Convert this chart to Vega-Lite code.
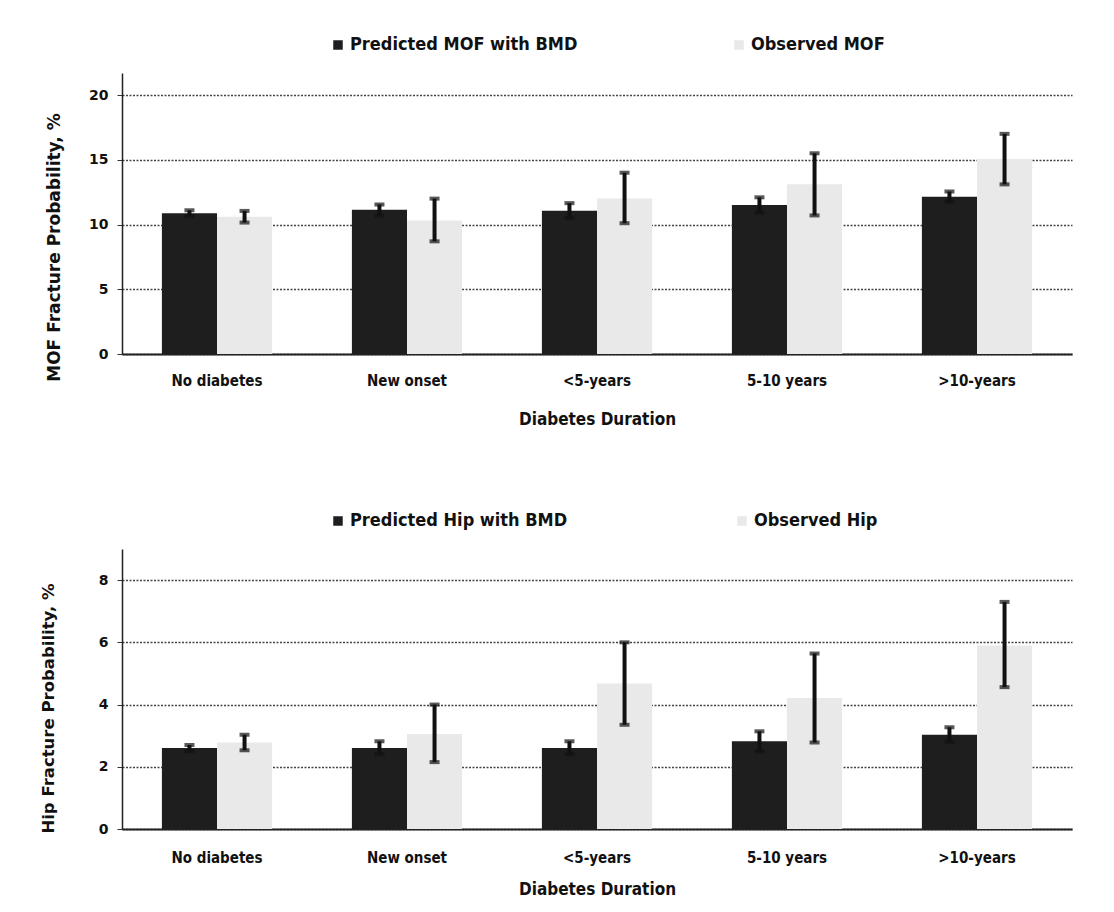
{
  "$schema": "https://vega.github.io/schema/vega-lite/v6.json",
  "background": "white",
  "padding": {"left": 40, "top": 36, "right": 5, "bottom": 5},
  "config": {
    "view": {"stroke": null},
    "axis": {"labelFont": "DejaVu Sans", "labelFontWeight": "bold", "labelColor": "#111", "titleColor": "#111"},
    "legend": {"labelFont": "DejaVu Sans Condensed", "labelFontWeight": "bold", "labelFontSize": 18, "labelColor": "#111", "labelLimit": 500}
  },
  "datasets": {
    "mof": [
      {"duration": "No diabetes", "series": "Predicted MOF with BMD", "value": 10.87, "lo": 10.65, "hi": 11.1},
      {"duration": "No diabetes", "series": "Observed MOF", "value": 10.6, "lo": 10.15, "hi": 11.05},
      {"duration": "New onset", "series": "Predicted MOF with BMD", "value": 11.13, "lo": 10.7, "hi": 11.55},
      {"duration": "New onset", "series": "Observed MOF", "value": 10.3, "lo": 8.7, "hi": 12.0},
      {"duration": "<5-years", "series": "Predicted MOF with BMD", "value": 11.07, "lo": 10.5, "hi": 11.65},
      {"duration": "<5-years", "series": "Observed MOF", "value": 12.0, "lo": 10.1, "hi": 14.0},
      {"duration": "5-10 years", "series": "Predicted MOF with BMD", "value": 11.5, "lo": 10.9, "hi": 12.1},
      {"duration": "5-10 years", "series": "Observed MOF", "value": 13.1, "lo": 10.7, "hi": 15.5},
      {"duration": ">10-years", "series": "Predicted MOF with BMD", "value": 12.15, "lo": 11.75, "hi": 12.55},
      {"duration": ">10-years", "series": "Observed MOF", "value": 15.05, "lo": 13.1, "hi": 17.0}
    ],
    "hip": [
      {"duration": "No diabetes", "series": "Predicted Hip with BMD", "value": 2.6, "lo": 2.5, "hi": 2.7},
      {"duration": "No diabetes", "series": "Observed Hip", "value": 2.78, "lo": 2.53, "hi": 3.03},
      {"duration": "New onset", "series": "Predicted Hip with BMD", "value": 2.6, "lo": 2.4, "hi": 2.82},
      {"duration": "New onset", "series": "Observed Hip", "value": 3.05, "lo": 2.15, "hi": 4.0},
      {"duration": "<5-years", "series": "Predicted Hip with BMD", "value": 2.6, "lo": 2.4, "hi": 2.82},
      {"duration": "<5-years", "series": "Observed Hip", "value": 4.68, "lo": 3.35, "hi": 6.0},
      {"duration": "5-10 years", "series": "Predicted Hip with BMD", "value": 2.82, "lo": 2.5, "hi": 3.14},
      {"duration": "5-10 years", "series": "Observed Hip", "value": 4.21, "lo": 2.78, "hi": 5.64},
      {"duration": ">10-years", "series": "Predicted Hip with BMD", "value": 3.03, "lo": 2.8, "hi": 3.27},
      {"duration": ">10-years", "series": "Observed Hip", "value": 5.9, "lo": 4.56, "hi": 7.3}
    ]
  },
  "bounds": "flush",
  "spacing": 195,
  "resolve": {"scale": {"color": "independent", "y": "independent", "x": "independent", "xOffset": "independent"}, "legend": {"color": "independent"}},
  "vconcat": [
    {
      "width": 950,
      "height": 281,
      "data": {"name": "mof"},
      "encoding": {
        "x": {
          "field": "duration", "type": "nominal",
          "sort": ["No diabetes", "New onset", "<5-years", "5-10 years", ">10-years"],
          "scale": {"paddingInner": 0.42, "paddingOuter": 0.21},
          "axis": {
            "title": "Diabetes Duration", "labelAngle": 0, "ticks": false,
            "labelFont": "DejaVu Sans Condensed", "labelFontSize": 15, "labelPadding": 19,
            "titleFont": "DejaVu Sans Condensed", "titleFontSize": 17, "titleFontWeight": "bold",
            "titleBaseline": "middle", "titleY": 65,
            "domainColor": "#222", "domainWidth": 2
          }
        },
        "xOffset": {"field": "series", "type": "nominal", "sort": ["Predicted MOF with BMD", "Observed MOF"], "scale": {"paddingInner": 0, "paddingOuter": 0}}
      },
      "layer": [
        {
          "mark": {"type": "bar"},
          "encoding": {
            "y": {
              "field": "value", "type": "quantitative",
              "scale": {"domain": [0, 21.7], "nice": false},
              "axis": {
                "title": "MOF Fracture Probability, %", "values": [0, 5, 10, 15, 20],
                "labelFontSize": 14, "labelPadding": 9, "tickSize": 5, "tickColor": "#333",
                "titleFont": "DejaVu Sans", "titleFontSize": 17, "titleFontWeight": "bold",
                "titleX": -68, "titleY": 174, "titleAngle": -90, "titleBaseline": "middle",
                "domainColor": "#222", "domainWidth": 1.5,
                "grid": true, "gridColor": "#444", "gridDash": [2, 1.5], "gridWidth": 1.5
              }
            },
            "color": {
              "field": "series", "type": "nominal",
              "sort": ["Predicted MOF with BMD", "Observed MOF"],
              "scale": {"domain": ["Predicted MOF with BMD", "Observed MOF"], "range": ["#1e1e1e", "#e9e9e9"]},
              "legend": {
                "title": null, "orient": "none", "direction": "horizontal",
                "legendX": 207, "legendY": -37, "symbolType": "square", "symbolSize": 90,
                "labelOffset": 3, "columnPadding": 152, "symbolStrokeWidth": 0
              }
            }
          }
        },
        {
          "mark": {"type": "rule", "color": "#111", "strokeWidth": 4},
          "encoding": {
            "y": {"field": "lo", "type": "quantitative", "title": "MOF Fracture Probability, %"},
            "y2": {"field": "hi"}
          }
        },
        {
          "mark": {"type": "tick", "color": "#111", "thickness": 4, "size": 10},
          "encoding": {"y": {"field": "lo", "type": "quantitative", "title": "MOF Fracture Probability, %"}}
        },
        {
          "mark": {"type": "tick", "color": "#111", "thickness": 4, "size": 10},
          "encoding": {"y": {"field": "hi", "type": "quantitative", "title": "MOF Fracture Probability, %"}}
        }
      ]
    },
    {
      "width": 950,
      "height": 280,
      "data": {"name": "hip"},
      "encoding": {
        "x": {
          "field": "duration", "type": "nominal",
          "sort": ["No diabetes", "New onset", "<5-years", "5-10 years", ">10-years"],
          "scale": {"paddingInner": 0.42, "paddingOuter": 0.21},
          "axis": {
            "title": "Diabetes Duration", "labelAngle": 0, "ticks": false,
            "labelFont": "DejaVu Sans Condensed", "labelFontSize": 15, "labelPadding": 21,
            "titleFont": "DejaVu Sans Condensed", "titleFontSize": 17, "titleFontWeight": "bold",
            "titleBaseline": "middle", "titleY": 60,
            "domainColor": "#222", "domainWidth": 2
          }
        },
        "xOffset": {"field": "series", "type": "nominal", "sort": ["Predicted Hip with BMD", "Observed Hip"], "scale": {"paddingInner": 0, "paddingOuter": 0}}
      },
      "layer": [
        {
          "mark": {"type": "bar"},
          "encoding": {
            "y": {
              "field": "value", "type": "quantitative",
              "scale": {"domain": [0, 9], "nice": false},
              "axis": {
                "title": "Hip Fracture Probability, %", "values": [0, 2, 4, 6, 8],
                "labelFontSize": 14, "labelPadding": 9, "tickSize": 5, "tickColor": "#333",
                "titleFont": "DejaVu Sans", "titleFontSize": 16.5, "titleFontWeight": "bold",
                "titleX": -74, "titleY": 159, "titleAngle": -90, "titleBaseline": "middle",
                "domainColor": "#222", "domainWidth": 1.5,
                "grid": true, "gridColor": "#444", "gridDash": [2, 1.5], "gridWidth": 1.5
              }
            },
            "color": {
              "field": "series", "type": "nominal",
              "sort": ["Predicted Hip with BMD", "Observed Hip"],
              "scale": {"domain": ["Predicted Hip with BMD", "Observed Hip"], "range": ["#1e1e1e", "#e9e9e9"]},
              "legend": {
                "title": null, "orient": "none", "direction": "horizontal",
                "legendX": 207, "legendY": -37, "symbolType": "square", "symbolSize": 90,
                "labelOffset": 3, "columnPadding": 165, "symbolStrokeWidth": 0
              }
            }
          }
        },
        {
          "mark": {"type": "rule", "color": "#111", "strokeWidth": 4},
          "encoding": {
            "y": {"field": "lo", "type": "quantitative", "title": "Hip Fracture Probability, %"},
            "y2": {"field": "hi"}
          }
        },
        {
          "mark": {"type": "tick", "color": "#111", "thickness": 4, "size": 10},
          "encoding": {"y": {"field": "lo", "type": "quantitative", "title": "Hip Fracture Probability, %"}}
        },
        {
          "mark": {"type": "tick", "color": "#111", "thickness": 4, "size": 10},
          "encoding": {"y": {"field": "hi", "type": "quantitative", "title": "Hip Fracture Probability, %"}}
        }
      ]
    }
  ]
}
